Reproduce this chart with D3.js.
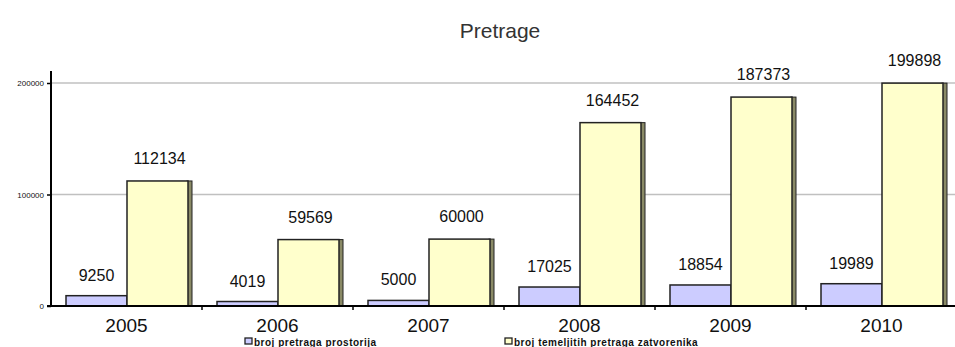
<!DOCTYPE html>
<html><head><meta charset="utf-8">
<script src="https://cdn.jsdelivr.net/npm/d3@7"></script>
<style>body{margin:0;background:#fff;}svg{display:block;font-family:Arial,"Liberation Sans",sans-serif;}</style>
</head><body><svg id="c" width="955" height="347"></svg>
<script>
const years = ["2005","2006","2007","2008","2009","2010"];
const seriesNames = ["broj pretraga prostorija","broj temeljitih pretraga zatvorenika"];
const rooms = [9250, 4019, 5000, 17025, 18854, 19989];
const inmates = [112134, 59569, 60000, 164452, 187373, 199898];
const yTicks = [0, 100000, 200000];
const colors = ["#ccccff", "#ffffcc"];

const svg = d3.select("#c");
const pL = 51, pR = 957, pT = 83, pB = 306;
const x = d3.scaleBand().domain(years).range([pL, pR]).padding(0);
const xs = d3.scaleBand().domain([0,1]).range([15, 137]).padding(0);
const y = d3.scaleLinear().domain([0, 200000]).range([pB, pT]);

svg.append("text").attr("x", 500).attr("y", 38).attr("text-anchor","middle")
  .attr("font-size", 21).attr("fill", "#333").text("Pretrage");

// gridlines
svg.append("g").selectAll("line").data(yTicks.filter(d=>d>0)).join("line")
  .attr("x1", pL).attr("x2", 955).attr("y1", d=>y(d)).attr("y2", d=>y(d))
  .attr("stroke", "#c0c0c0").attr("stroke-width", 1.5);

const data = [rooms, inmates];
data.forEach((vals, si) => {
  const g = svg.append("g");
  const bw = xs.bandwidth();
  if (si === 1) {
    g.selectAll("rect.side").data(vals).join("rect")
      .attr("x", (d,i)=>x(years[i]) + xs(si) + bw - 1).attr("y", d=>y(d))
      .attr("width", 5).attr("height", d=>pB - y(d))
      .attr("fill", "#8a8a66").attr("stroke", "#222").attr("stroke-width", 1);
  }
  g.selectAll("rect.bar").data(vals).join("rect")
    .attr("x", (d,i)=>x(years[i]) + xs(si)).attr("y", d=>y(d))
    .attr("width", bw).attr("height", d=>pB - y(d))
    .attr("fill", colors[si]).attr("stroke", "#222").attr("stroke-width", 1.5);
  g.selectAll("text").data(vals).join("text")
    .attr("x", (d,i)=>x(years[i]) + xs(si) + bw/2 + (si===1?2:0)).attr("y", d=>y(d) - (si===1?17:15))
    .attr("text-anchor","middle").attr("font-size", 16).attr("fill","#111")
    .text(d=>d);
});

// y axis
const yAxis = d3.axisLeft(y).tickValues(yTicks).tickSize(4).tickFormat(d3.format("d"));
const ya = svg.append("g").attr("transform", `translate(${pL},0)`).call(yAxis);
ya.select(".domain").attr("d", `M-4,${pB}H0V${pT-12}`).attr("stroke","#000").attr("stroke-width",2);
ya.selectAll(".tick line").attr("stroke","#000").attr("stroke-width",1.5);
ya.selectAll(".tick text").attr("font-size", 8).attr("fill","#111").attr("font-family","Arial,sans-serif").attr("x",-7);

// x axis
const xAxis = d3.axisBottom(x).tickSize(0).tickPadding(13);
const xa = svg.append("g").attr("transform", `translate(0,${pB})`).call(xAxis);
xa.select(".domain").attr("d", `M${pL},0H955`).attr("stroke","#000").attr("stroke-width",2);
xa.selectAll(".tick text").attr("font-size", 19).attr("fill","#111").attr("font-family","Arial,sans-serif");
svg.append("g").selectAll("line").data(years.slice(1)).join("line")
  .attr("x1", d=>x(d)).attr("x2", d=>x(d)).attr("y1", pB).attr("y2", pB+4)
  .attr("stroke","#000").attr("stroke-width",1.5);

// legend
const legX = [245, 505];
seriesNames.forEach((n, i) => {
  const lg = svg.append("g").attr("transform", `translate(${legX[i]},338)`);
  lg.append("rect").attr("x",0).attr("y",0).attr("width",7).attr("height",6)
    .attr("fill", colors[i]).attr("stroke","#222").attr("stroke-width",1.3);
  lg.append("text").attr("x",9).attr("y",7.5).attr("font-size",10).attr("font-weight","bold")
    .attr("letter-spacing", 0.5).attr("fill","#111").text(n);
});
</script></body></html>
